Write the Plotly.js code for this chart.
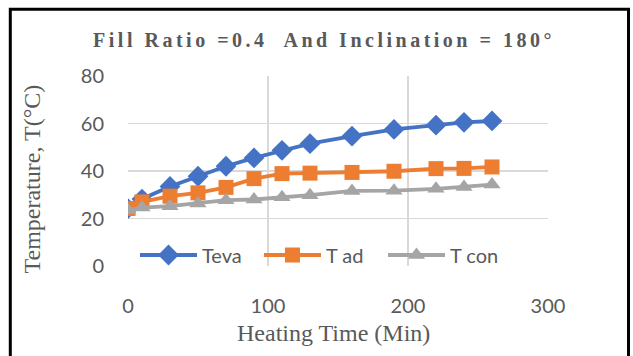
<!DOCTYPE html>
<html>
<head>
<meta charset="utf-8">
<script src="https://cdn.plot.ly/plotly-3.0.1.min.js"></script>
<style>
html,body{margin:0;padding:0;background:#fff;}
#chart{width:633px;height:356px;}
.gtitle{letter-spacing:3.5px;}
</style>
</head>
<body>
<div id="chart"></div>
<script>
const time = [0, 10, 30, 50, 70, 90, 110, 130, 160, 190, 220, 240, 260];
const teva = [24.2, 28.2, 33.5, 37.8, 42, 45.5, 48.7, 51.5, 54.7, 57.5, 59.3, 60.5, 61.1];
const tad  = [24.2, 27, 29.4, 30.8, 33.1, 36.8, 38.9, 39.1, 39.4, 39.9, 41, 41.1, 41.7];
const tcon = [23.5, 24.6, 25.2, 26.3, 27.7, 28, 28.9, 29.8, 31.6, 31.7, 32.5, 33.3, 34.3];
const seriesNames = ["Teva", "T ad", "T con"];
const colors = ["#4472C4", "#ED7D31", "#A5A5A5"];
const symbols = ["diamond", "square", "triangle-up"];
const xTicks = [0, 100, 200, 300];
const yTicks = [0, 20, 40, 60, 80];
const titleText = 'Fill Ratio =0.4\u00A0 And Inclination = 180°';
const xTitle = 'Heating Time (Min)';
const yTitle = 'Temperature, T(°C)';

const ys = [teva, tad, tcon];
const sizes = [16, 15, 15];
const traces = ys.map((y, i) => ({
  x: time, y: y, name: seriesNames[i], type: 'scatter', mode: 'lines+markers',
  line: {color: colors[i], width: 3.8},
  marker: {color: colors[i], symbol: symbols[i], size: sizes[i]}
}));

const W = 633, H = 356, L = 128, R = 85, T = 76, B = 90;
const pw = W - L - R, ph = H - T - B;
const px = v => (v - L) / pw;
const py = v => (H - B - v) / ph;
const serif = 'Liberation Serif, Times New Roman, serif';
const sans = 'Lato, sans-serif';
const layout = {
  width: W, height: H,
  margin: {l: L, r: R, t: T, b: B},
  paper_bgcolor: '#fff', plot_bgcolor: '#fff',
  title: {text: '<b>' + titleText + '</b>', xref: 'container', x: 324 / W, xanchor: 'center',
    yref: 'container', y: 1 - 40 / H, yanchor: 'middle',
    font: {family: serif, size: 20, color: '#595959'}},
  xaxis: {range: [0, 300], tickvals: xTicks, showgrid: true, gridcolor: '#d9d9d9', gridwidth: 1.3,
    zeroline: false, showline: false, ticks: '', tickfont: {family: sans, size: 20, color: '#595959'},
    ticklabelstandoff: 26},
  yaxis: {range: [0, 80], tickvals: yTicks, showgrid: true, gridcolor: '#d9d9d9', gridwidth: 1.3,
    zeroline: false, showline: false, ticks: '', tickfont: {family: sans, size: 20, color: '#595959'},
    ticklabelstandoff: 23},
  annotations: [
    {text: xTitle, xref: 'paper', yref: 'paper', x: px(333.5), y: py(333), xanchor: 'center', yanchor: 'middle',
     showarrow: false, font: {family: serif, size: 24, color: '#595959'}},
    {text: yTitle, xref: 'paper', yref: 'paper', x: px(31), y: py(179.5), xanchor: 'center', yanchor: 'middle',
     textangle: -90, showarrow: false, font: {family: serif, size: 24, color: '#595959'}}
  ],
  legend: {orientation: 'h', x: px(135), xanchor: 'left', y: 11 / ph, yanchor: 'middle', bgcolor: 'rgba(0,0,0,0)',
    font: {family: sans, size: 20, color: '#595959'}, itemwidth: 57, entrywidth: 52, tracegroupgap: 0},
  showlegend: true,
  shapes: [{type: 'path', xref: 'paper', yref: 'paper',
    path: `M${px(10.3)},${py(370)} L${px(10.3)},${py(9.3)} L${px(628.5)},${py(9.3)} L${px(628.5)},${py(370)}`,
    line: {color: '#000', width: 3}, layer: 'above'}]
};
Plotly.newPlot('chart', traces, layout, {staticPlot: true, displayModeBar: false});
</script>
</body>
</html>
